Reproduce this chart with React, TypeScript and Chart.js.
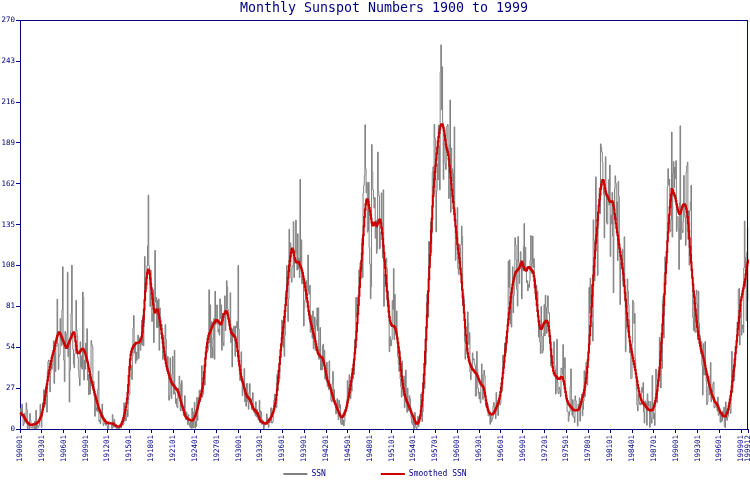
import React, { useEffect, useRef } from "react";
import { Chart, registerables } from "chart.js";

Chart.register(...registerables);

const TITLE = "Monthly Sunspot Numbers 1900 to 1999";
const FIRST_YEAR = 1900;
const LAST_YEAR = 1999;
const Y_MAX = 270;
const Y_STEP = 27;
const LABEL_EVERY = 36;
const NAVY = "#000080";
const SSN_COLOR = "#808080";
const SMOOTH_COLOR = "#cc0000";

// Monthly sunspot numbers, one line per year
const ssn1900s = [
  9.4, 13.6, 8.6, 16.5, 9.0, 2.2, 3.5, 10.4, 4.6, 5.8, 17.3, 12.9,
  0.2, 2.4, 4.5, 0, 10.2, 5.8, 0.7, 1, 0.6, 3.7, 3.8, 0,
  5.2, 0, 12.4, 0, 2.8, 1.4, 0.9, 2.3, 7.6, 16.3, 10.3, 1.1,
  8.3, 17, 13.5, 26.1, 14.6, 16.3, 27.9, 28.8, 11.1, 38.9, 44.5, 45.6,
  31.6, 24.5, 37.2, 43, 39.5, 41.9, 50.6, 58.2, 30.1, 54.2, 38, 54.6,
  54.8, 85.8, 56.5, 39.3, 48, 49, 73, 58.8, 55, 78.7, 107.2, 55.5,
  45.5, 31.3, 64.5, 55.3, 57.7, 63.2, 103.6, 47.7, 56.1, 17.8, 38.9, 64.7,
  76.4, 108.2, 60.7, 52.6, 42.9, 40.4, 49.7, 54.3, 85, 65.4, 61.5, 47.3,
  39.2, 33.9, 28.7, 57.6, 40.8, 48.1, 39.5, 90.5, 86.9, 32.3, 45.5, 39.5,
  56.7, 46.6, 66.3, 32.3, 36, 22.6, 35.8, 23.1, 38.8, 58.4, 55.8, 54.2,
];
const ssn1910s = [
  26.4, 31.5, 21.4, 8.4, 22.2, 12.3, 14.1, 11.5, 26.2, 38.3, 4.9, 5.8,
  3.4, 9, 7.8, 16.5, 9, 2.2, 3.5, 4, 4, 2.6, 4.2, 2.2,
  0.3, 0, 4.9, 4.5, 4.4, 4.1, 3, 0.3, 9.5, 4.6, 1.1, 6.4,
  2.3, 2.9, 0.5, 0.9, 0, 0, 1.7, 0.2, 1.2, 3.1, 0.7, 3.8,
  2.8, 2.6, 3.1, 17.3, 5.2, 11.4, 5.4, 7.7, 12.7, 8.2, 16.4, 22.3,
  23, 42.3, 38.8, 41.9, 32.7, 48.2, 66.6, 75, 50.1, 56, 43.4, 50.8,
  45.4, 50, 62, 46.5, 57, 60.3, 52, 56, 71.7, 55.5, 75.2, 54.9,
  70, 114, 96, 92.7, 92.6, 108, 121, 154.5, 108, 104.3, 81, 105,
  87, 71, 76, 92, 57, 76, 118, 84, 87, 67, 85, 67,
  86, 52, 80, 73, 68, 69, 60, 46, 62, 53, 47, 69,
];
const ssn1920s = [
  59, 43, 38, 48, 39, 19, 22, 47, 30, 20, 36, 48,
  32, 23, 52, 24, 17, 20, 15, 14, 27, 24, 35, 30,
  12, 21, 32, 12, 13, 9, 13, 22, 12, 6, 11, 8,
  2.8, 9.5, 4.1, 2.1, 1, 5.2, 0.5, 13.8, 0.7, 0.8, 11.3, 17.7,
  0.5, 5.1, 1.8, 20.9, 5.7, 13, 20.9, 25.6, 18.3, 21, 26.2, 41.8,
  21, 23, 28, 37, 29, 41, 48, 56, 51, 52, 54, 92,
  57, 82, 47, 71, 54, 47, 60, 73, 46, 91, 69, 70,
  82, 72, 64, 66, 62, 86, 73, 82, 52, 76, 57, 55,
  74, 88, 65, 79, 98, 94, 79, 72, 69, 67, 90, 57,
  67, 41, 66, 62, 68, 58, 48, 68, 67, 71, 55, 108,
];
const ssn1930s = [
  66, 43, 32, 41, 51, 31, 22, 28, 29, 40, 18, 27,
  15, 30, 30, 18, 13, 24, 30, 18, 20, 13, 19, 24,
  12, 11, 13, 9, 18, 8, 13, 9, 6, 11, 19, 4,
  12, 11, 3, 6, 5, 0, 2, 3, 4, 5, 10, 7,
  3, 1, 6, 4, 7, 14, 4, 4, 5, 14, 19, 23,
  18, 19, 14, 36, 25, 39, 31, 33, 43, 47, 56, 72,
  62, 54, 71, 48, 62, 89, 91, 108, 82, 71, 86, 132,
  111, 123, 100, 97, 107, 108, 137, 100, 118, 116, 138, 117,
  105, 129, 106, 113, 100, 165, 110, 125, 96, 103, 96, 68,
  80, 85, 97, 98, 89, 88, 115, 91, 89, 95, 64, 75,
];
const ssn1940s = [
  66, 60, 78, 53, 66, 74, 52, 68, 72, 80, 65, 80,
  46, 53, 67, 39, 48, 39, 55, 56, 42, 52, 33, 40,
  32, 44, 28, 30, 26, 45, 30, 27, 19, 18, 30, 38,
  20, 26, 19, 17, 10, 16, 20, 13, 6, 19, 14, 16,
  4, 3, 8, 3, 6, 2, 5, 9, 11, 13, 19, 32,
  19, 28, 36, 28, 20, 30, 25, 40, 33, 45, 36, 59,
  58, 87, 74, 75, 87, 83, 105, 93, 110, 109, 104, 126,
  100, 156, 161, 167, 201, 172, 156, 163, 130, 131, 163, 120,
  109, 86, 94, 188, 170, 158, 152, 146, 153, 126, 138, 116,
  119, 183, 157, 154, 119, 120, 130, 156, 128, 113, 158, 81,
];
const ssn1950s = [
  102, 94, 110, 113, 106, 83, 91, 85, 51, 61, 55, 55,
  59, 85, 79, 106, 59, 89, 63, 66, 78, 58, 48, 43,
  38, 52, 33, 28, 21, 45, 33, 22, 35, 14, 18, 39,
  26, 11, 27, 12, 13, 22, 20, 14, 7, 4, 3, 8,
  0.2, 0.5, 10.9, 1.8, 0.8, 0.2, 4.8, 8.4, 1.5, 7, 9.2, 7.6,
  23.1, 20.8, 4.9, 11.3, 28.9, 31.7, 26.7, 40.7, 42.7, 58.5, 89.2, 76.9,
  73.6, 124, 118.4, 110.7, 136.6, 116.6, 129.1, 169.6, 173.2, 155.3, 201.3, 192.1,
  165, 130.2, 157.4, 175.2, 164.6, 200.7, 187.2, 158, 235.8, 253.8, 210.9, 239.4,
  202.5, 164.9, 190.7, 196, 175.3, 171.5, 191.4, 200.2, 201.2, 181.5, 152.3, 187.6,
  217.4, 143.1, 185.7, 163.3, 172, 168.7, 149.6, 199.6, 145.2, 111.4, 124, 125,
];
const ssn1960s = [
  146.3, 106, 102.2, 122, 119.6, 110.2, 121.7, 134.1, 127.2, 82.8, 89.6, 85.6,
  57.9, 46.1, 53, 61.4, 51, 77.4, 70.2, 55.8, 63.6, 37.7, 32.6, 39.9,
  38.7, 50.3, 45.6, 46.4, 43.7, 42, 21.8, 21.8, 51.3, 39.5, 26.9, 23.2,
  19.8, 24.4, 17.1, 29.3, 43, 35.9, 19.6, 33.2, 38.8, 35.3, 23.4, 14.9,
  15.3, 17.7, 16.5, 8.6, 9.5, 9.1, 3.1, 9.3, 4.7, 6.1, 7.4, 15.1,
  17.5, 14.2, 11.7, 6.8, 24.1, 15.9, 11.9, 8.9, 16.8, 20.1, 15.8, 17,
  28.2, 24.4, 25.3, 48.7, 45.3, 47.7, 56.7, 51.2, 50.2, 57.2, 57.2, 70.4,
  110.9, 93.6, 111.8, 69.5, 86.5, 67.3, 91.5, 107.2, 76.8, 88.2, 94.3, 126.4,
  121.8, 111.9, 92.2, 81.2, 127.2, 110.3, 96.1, 109.3, 117.2, 107.7, 86, 109.8,
  104.4, 120.5, 135.8, 106.8, 120, 106, 96.8, 98, 91.3, 95.7, 93.5, 97.9,
];
const ssn1970s = [
  111.5, 127.8, 102.9, 109.5, 127.5, 106.8, 112.5, 93, 99.5, 86.6, 95.2, 83.5,
  91.3, 79, 60.7, 71.8, 57.5, 49.8, 81, 61.4, 50.2, 51.7, 63.2, 82.2,
  61.5, 88.4, 80.1, 63.2, 80.5, 88, 76.5, 76.8, 64, 61.3, 41.6, 45.3,
  43.4, 42.9, 46, 57.7, 42.4, 39.5, 23.1, 25.6, 59.3, 30.7, 23.9, 23.3,
  27.6, 26, 21.3, 40.3, 39.5, 36, 55.8, 33.6, 40.2, 47.1, 25, 20.5,
  18.9, 11.5, 11.5, 5.1, 9, 11.4, 28.2, 39.7, 13.9, 9.1, 19.4, 7.8,
  8.1, 4.3, 21.9, 18.8, 12.4, 12.2, 1.9, 16.4, 13.5, 20.6, 5.2, 15.3,
  16.4, 23.1, 8.7, 12.9, 18.6, 38.5, 21.4, 30.1, 44, 43.8, 29.1, 43.2,
  51.9, 93.6, 76.5, 99.7, 82.7, 95.1, 70.4, 58.1, 138.2, 125.1, 97.9, 122.7,
  166.6, 137.5, 138, 101.5, 134.4, 149.5, 159.4, 142.2, 188.4, 186.2, 183, 176.3,
];
const ssn1980s = [
  159.6, 155, 126.2, 164.1, 179.9, 157.3, 136.3, 135.4, 155, 164.7, 147.9, 174.4,
  114, 141.3, 135.5, 156.4, 127.5, 90, 143.8, 158.7, 167.3, 162.4, 137.5, 150.1,
  111.2, 163.6, 153.8, 122, 82.2, 110.4, 106.1, 107.6, 118.8, 94.7, 98.1, 127,
  84.3, 51, 66.5, 80.7, 99.2, 91.1, 82.2, 71.8, 50.3, 55.8, 33.3, 33.4,
  57, 85, 83.5, 69.7, 76.4, 46.1, 37.4, 25.5, 15.7, 12, 22.8, 18.7,
  16.5, 15.9, 17.2, 16.2, 27.5, 24.2, 30.7, 11.1, 3.9, 18.6, 16.2, 17.3,
  2.5, 23.2, 15.1, 18.5, 13.7, 1.1, 18.1, 7.4, 3.8, 35.4, 15.2, 6.8,
  10.4, 2.4, 14.7, 39.6, 33, 17.4, 33, 38.7, 33.9, 60.6, 39.9, 27.1,
  59, 40, 85, 88, 60.1, 101.8, 113.8, 111, 107.2, 113.8, 160, 172,
  161.3, 165.1, 131.4, 130.5, 138.5, 196.2, 126.8, 168.9, 176.7, 159.4, 173, 165.5,
];
const ssn1990s = [
  177.3, 130.5, 140.3, 140.3, 132.2, 105.4, 149.4, 200.3, 125.2, 145.5, 131.4, 129.7,
  136.9, 167.5, 141.9, 140, 121.3, 169.7, 173.7, 176.3, 125.3, 144.1, 108.2, 144.4,
  150, 161.1, 106.7, 99.8, 73.8, 65.2, 85.7, 64.5, 63.9, 88.7, 91.8, 82.6,
  59.3, 91, 69.8, 62.2, 61.3, 49.8, 57.9, 42.2, 22.4, 56.4, 35.6, 48.9,
  57.8, 35.5, 31.7, 16.1, 17.8, 28, 35.1, 22.5, 25.7, 44, 18, 26.2,
  24.2, 29.9, 31.1, 14, 14.5, 15.6, 14.5, 14.3, 11.8, 21.1, 9, 10,
  11.5, 4.4, 9.2, 4.8, 5.5, 11.8, 8.2, 14.4, 1.6, 0.9, 17.9, 13.3,
  5.7, 7.6, 8.7, 15.5, 18.5, 12.7, 10.4, 24.4, 51.3, 23.8, 39, 41.2,
  31.9, 40.3, 54.8, 53.4, 56.3, 70.7, 66.6, 92.2, 92.9, 55.5, 74, 81.9,
  62, 66.3, 68.8, 63.7, 106.4, 137.4, 113.5, 93.7, 71.5, 116.7, 133.2, 84.6,
];

// Smoothed monthly sunspot numbers, one line per year
const smooth1900s = [
  10.5, 10.3, 10, 9.6, 9.2, 8.7, 8.1, 7.4, 6.7, 6, 5.3, 4.7,
  4.2, 3.8, 3.4, 3.1, 2.9, 2.8, 2.7, 2.7, 2.8, 2.9, 3, 3.1,
  3.2, 3.3, 3.5, 3.8, 4.1, 4.5, 5, 5.6, 6.3, 7.2, 8.3, 9.6,
  11, 12.8, 14.8, 17, 19.4, 22, 24.5, 27, 29.5, 32, 34.5, 37,
  39, 41, 43, 45, 47, 48.5, 50, 51.5, 53, 55, 57, 58.5,
  60, 61.5, 62.5, 63.5, 64, 63.5, 63, 62, 61, 60, 59, 58,
  57, 56, 55, 54, 53.5, 54, 55, 56, 57, 58, 59, 60,
  61, 62, 63, 63.5, 64, 63, 61, 58, 55, 52, 50.5, 50,
  50, 50.5, 51, 51.5, 52, 52.5, 53, 53, 52.5, 52, 51, 50,
  48.5, 47, 45.5, 44, 42, 40, 38, 36, 34, 32, 30.5, 29,
];
const smooth1910s = [
  27.5, 26, 24.5, 23, 21.5, 20, 18.5, 17, 15.5, 14, 13, 12,
  11, 10, 9, 8.2, 7.5, 6.8, 6.2, 5.7, 5.2, 4.8, 4.5, 4.2,
  4, 3.8, 3.7, 3.6, 3.6, 3.7, 3.8, 3.8, 3.7, 3.5, 3.2, 2.9,
  2.6, 2.3, 2, 1.8, 1.6, 1.5, 1.5, 1.6, 1.8, 2.2, 2.8, 3.6,
  4.6, 5.8, 7.2, 8.8, 10.5, 12.5, 14.5, 17, 20, 24, 29, 35,
  41, 46, 49, 51, 52.5, 53.5, 54.5, 55, 55.5, 56, 56.5, 57,
  57, 57, 57, 57, 57.5, 58, 58.5, 59.5, 61, 64, 68, 73,
  79, 85, 91, 96, 100, 103, 104.5, 105.4, 104.5, 102.5, 99.5, 96,
  93, 89.5, 86, 82.5, 79.5, 77.5, 77, 77.5, 78.5, 79, 79, 78,
  76, 73.5, 71, 68.5, 66, 63, 60, 57, 54, 51, 48.5, 46,
];
const smooth1920s = [
  43.5, 41.5, 40, 38.5, 37, 35.5, 34, 33, 32, 31, 30, 29.5,
  29, 28.5, 28, 27.5, 27, 26.5, 26, 25.5, 24.5, 23.5, 22, 20.5,
  19, 17.5, 16, 15, 14, 12.5, 11, 9.5, 8.5, 8, 7.5, 7,
  6.8, 6.5, 6.2, 6, 5.8, 5.7, 5.6, 5.6, 5.8, 6.2, 6.8, 7.6,
  8.6, 9.8, 11, 12.5, 14, 15.5, 17, 18.5, 20, 21.5, 23, 25,
  27, 30, 33.5, 37.5, 42, 46.5, 50.5, 54, 57, 59.5, 61.5, 63,
  63.5, 64.5, 65.5, 66.5, 67.5, 68.5, 69.5, 70, 70.5, 71, 71.5, 72,
  72, 71.5, 71, 70.5, 70, 69.5, 69, 69.5, 70.5, 72, 74, 76,
  76, 77, 77.5, 78, 77.5, 76.5, 75, 73, 71, 68.5, 66, 64.5,
  63.5, 63, 62.5, 62, 61.5, 61, 60.5, 59, 57, 54.5, 51.5, 48,
];
const smooth1930s = [
  45, 42, 39, 36.5, 34.5, 33, 31.5, 30, 28.5, 27, 25.5, 24,
  23, 22, 21.5, 21, 20.5, 20, 19.5, 18.5, 17.5, 16.5, 15.5, 14.5,
  13.5, 13, 12.5, 12, 11.5, 11, 10.5, 10, 9, 8, 7, 6,
  5.5, 5, 4.8, 4.5, 4.2, 4, 3.8, 3.6, 3.5, 3.7, 4, 4.5,
  5, 5.5, 6, 6.5, 7, 7.8, 8.6, 9.5, 10.5, 11.8, 13.2, 15,
  17, 19.5, 22.5, 26, 30, 34, 38.5, 43, 47.5, 52, 56, 60,
  63.5, 67, 70.5, 74, 78, 82, 86.5, 91, 95.5, 100, 104, 108,
  111, 114, 116.5, 118.5, 119.2, 118.5, 117, 115, 113, 111.5, 110.5, 110,
  110, 110.5, 110.5, 110, 109, 108, 107, 106, 104.5, 103, 101, 99,
  96.5, 94, 91.5, 89, 86.5, 84, 81, 78, 75.5, 73, 71, 69.5,
];
const smooth1940s = [
  68, 66, 64.5, 63, 61.5, 60, 58, 56, 54, 52, 50.5, 49.5,
  49, 48.5, 48, 47.5, 47.5, 47, 46.5, 45.5, 44, 42, 40, 38,
  36, 34, 32, 31, 30, 29, 28, 27, 25.5, 24, 22.5, 21,
  19.5, 18.5, 17.5, 16.5, 15.5, 14.5, 13.5, 12.5, 11.5, 10.5, 9.5, 9,
  8.2, 7.7, 7.8, 8.2, 8.8, 9.5, 10.5, 11.5, 12.5, 14, 15.5, 17.5,
  19.5, 21.5, 24, 26.5, 29, 31.5, 34, 36.5, 39.5, 42.5, 46, 50,
  54, 59, 64.5, 70, 76, 82, 88, 94, 100, 106, 111, 116,
  122, 128, 134, 140, 145, 148.5, 151, 151.8, 151.5, 150, 148, 146,
  144, 141.5, 139, 136.5, 135, 134.5, 135, 136, 136.5, 136, 135, 134,
  135, 136, 137, 138, 138.5, 138, 136, 133, 129.5, 125.5, 121, 116.5,
];
const smooth1950s = [
  111.5, 106.5, 101.5, 96, 91, 86, 81.5, 77.5, 74, 71.5, 70, 69,
  68.5, 68, 68, 68, 67.5, 67, 66, 64.5, 62.5, 60, 57, 54,
  50.5, 47, 43, 39, 35, 32, 29.5, 27, 25, 23, 21.5, 20,
  19, 18, 17, 16, 15, 14, 13, 12, 11, 10, 9, 8.5,
  7.5, 6.5, 5.5, 4.5, 3.6, 3.4, 3.5, 3.9, 4.6, 5.6, 7, 9,
  12, 15, 19, 24, 30, 36, 43, 51, 59, 67, 75, 83,
  91, 99, 107, 115, 123, 131, 139, 147, 154, 160, 165, 170,
  174, 178, 182, 186, 190, 193, 195.5, 198, 200, 201, 201.3, 201,
  200.5, 199, 197, 194, 191, 188, 186, 184.5, 183, 181, 178, 174,
  170, 166, 162, 158, 154, 150, 146, 142, 138, 134, 130, 126,
];
const smooth1960s = [
  122, 119, 116, 113, 110, 106, 102, 97, 92, 87, 82, 77,
  72, 67, 62, 57, 53, 50, 47.5, 45.5, 44, 43, 42, 41,
  40, 39.5, 39, 38.5, 38, 37.5, 37, 36.5, 36, 35, 34, 33,
  32, 31, 30, 29.5, 29, 28.5, 28, 27.5, 26, 24, 21.5, 19,
  16.5, 14.5, 13, 12, 11, 10.5, 10, 9.8, 9.6, 9.6, 9.8, 10.2,
  10.8, 11.5, 12.2, 13, 14, 15, 16, 17.2, 18.5, 20, 22, 24.5,
  27, 30, 33.5, 37, 40.5, 44.5, 48.5, 52.5, 56.5, 60.5, 64.5, 68.5,
  72.5, 76.5, 80, 83.5, 87, 90, 93, 95.5, 97.5, 99.5, 101, 102.5,
  103.5, 104, 104.5, 105, 105.5, 106, 106.5, 107.5, 108.5, 109.5, 110.6, 110,
  108.5, 107, 106, 105.5, 105, 104.5, 105, 106, 106.5, 107, 107, 106.5,
];
const smooth1970s = [
  106, 105.5, 105, 104.5, 104, 103, 101, 98, 94, 90, 86, 82,
  78, 74.5, 71, 68.5, 67, 66, 66, 66.5, 67.5, 68.5, 69.5, 70,
  70.5, 71, 71.5, 71.5, 71, 70, 68, 65, 61.5, 57, 52.5, 48,
  44, 41, 38.5, 37, 36, 35.5, 35, 34.5, 34, 33.5, 33, 33,
  33, 33.5, 34, 34.5, 34.5, 34, 33, 31.5, 29.5, 27, 24.5, 22,
  20, 18.5, 17.5, 16.5, 16, 15.5, 15, 14.5, 14, 13.5, 13, 12.8,
  12.5, 12.3, 12.2, 12.2, 12.3, 12.5, 12.6, 12.8, 13.2, 14, 15, 16.5,
  18, 19.5, 21, 22.5, 24, 26, 28, 30.5, 33.5, 37, 41, 45.5,
  50.5, 56, 62, 68, 74.5, 81, 88, 95, 101.5, 107.5, 113, 118,
  123, 128, 133, 138, 143, 147.5, 151.5, 155, 158.5, 161.5, 163.5, 164.5,
];
const smooth1980s = [
  164.5, 163.5, 161.5, 159, 157, 155.5, 154.5, 154, 153, 152, 151, 150.5,
  150, 150, 150.5, 150.5, 149.5, 147.5, 145, 142, 139, 136, 133, 130,
  128, 125, 122, 119.5, 117, 114.5, 112, 109, 106, 102.5, 98.5, 94.5,
  90, 85.5, 81, 76.5, 72, 68, 64.5, 61, 58, 55.5, 53, 51,
  49, 47, 45, 43, 41, 39, 36.5, 34, 31.5, 29, 27, 25,
  23, 21.5, 20, 19, 18, 17.5, 17, 16.5, 16, 15.5, 15, 14.5,
  14, 13.5, 13, 12.7, 12.5, 12.4, 12.3, 12.3, 12.3, 12.6, 13.2, 14.2,
  15.5, 17, 18.5, 20.5, 23, 25.5, 28.5, 32, 36, 40.5, 45.5, 51,
  57, 63, 69, 75.5, 82, 89, 96, 103, 110, 117, 124, 130,
  136, 141.5, 146.5, 151, 155, 158.5, 158.3, 157.5, 156, 155, 154, 152.5,
];
const smooth1990s = [
  150.5, 148.5, 146.5, 145, 143.5, 142.5, 142, 142.5, 143.5, 145, 146.5, 147.5,
  148, 148.5, 148.5, 148, 147, 145.5, 143.5, 140, 136, 131, 126, 120.5,
  115, 110, 105, 100, 95.5, 91, 87, 83, 79, 75, 71, 67.5,
  64.5, 62, 59.5, 57, 55, 53, 51.5, 50, 48.5, 47, 45.5, 44,
  42, 40, 38, 36, 34, 32, 30.5, 29, 27.5, 26, 24.5, 23,
  22, 21, 20, 19, 18, 17.5, 17, 16.5, 16, 15, 14, 13,
  12, 11, 10.5, 10, 9.5, 9, 8.7, 8.5, 8.3, 8.2, 8.5, 9.5,
  10.5, 11.5, 13, 15, 17, 19.5, 22, 25, 28, 31.5, 35, 38.5,
  42, 46, 50, 54, 58, 62, 66, 70, 74, 78, 82, 85,
  87, 89, 91, 93, 95, 97, 99, 102, 105, 108, 110, 112,
];

const SSN = [
  ...ssn1900s, ...ssn1910s, ...ssn1920s, ...ssn1930s, ...ssn1940s,
  ...ssn1950s, ...ssn1960s, ...ssn1970s, ...ssn1980s, ...ssn1990s,
];
const SMOOTHED = [
  ...smooth1900s, ...smooth1910s, ...smooth1920s, ...smooth1930s, ...smooth1940s,
  ...smooth1950s, ...smooth1960s, ...smooth1970s, ...smooth1980s, ...smooth1990s,
];

const MONTHS: string[] = [];
for (let y = FIRST_YEAR; y <= LAST_YEAR; y++) {
  for (let m = 1; m <= 12; m++) MONTHS.push(`${y}${String(m).padStart(2, "0")}`);
}
const LAST_INDEX = MONTHS.length - 1;
const showLabel = (i: number) => i % LABEL_EVERY === 0 || i === LAST_INDEX;

const TICK_FONT = { family: "'DejaVu Sans Mono', monospace", size: 7.5 };

const frameLegendPlugin = {
  id: "frameLegend",
  afterDraw(chart: any) {
    const { ctx, chartArea: a, width } = chart;
    ctx.save();
    // top and right frame lines
    ctx.strokeStyle = NAVY;
    ctx.lineWidth = 1;
    ctx.beginPath();
    ctx.moveTo(a.left, Math.round(a.top) + 0.5);
    ctx.lineTo(a.right, Math.round(a.top) + 0.5);
    ctx.moveTo(Math.round(a.right) - 0.5, a.top);
    ctx.lineTo(Math.round(a.right) - 0.5, a.bottom);
    ctx.stroke();
    // legend
    const items = chart.data.datasets.map((d: any) => ({ text: d.label, color: d.borderColor }));
    ctx.font = "8px 'DejaVu Sans Mono', monospace";
    const lineW = 24, gapText = 4, gapItem = 55;
    const widths = items.map((it: any) => lineW + gapText + ctx.measureText(it.text).width);
    const total = widths.reduce((s: number, w: number) => s + w, 0) + gapItem * (items.length - 1);
    let x = (width - total) / 2;
    const y = 474;
    ctx.textBaseline = "middle";
    ctx.textAlign = "left";
    items.forEach((it: any, i: number) => {
      ctx.strokeStyle = it.color;
      ctx.lineWidth = 2;
      ctx.beginPath();
      ctx.moveTo(x, y);
      ctx.lineTo(x + lineW, y);
      ctx.stroke();
      ctx.fillStyle = NAVY;
      ctx.fillText(it.text, x + lineW + gapText, y);
      x += widths[i] + gapItem;
    });
    ctx.restore();
  },
};

export default function App() {
  const canvasRef = useRef<HTMLCanvasElement | null>(null);

  useEffect(() => {
    const canvas = canvasRef.current;
    if (!canvas) return;
    const chart = new Chart(canvas, {
      type: "line",
      data: {
        labels: MONTHS,
        datasets: [
          {
            label: "SSN",
            data: SSN,
            borderColor: SSN_COLOR,
            backgroundColor: SSN_COLOR,
            borderWidth: 1,
            pointRadius: 0,
            stepped: true,
            order: 2,
          },
          {
            label: "Smoothed SSN",
            data: SMOOTHED,
            borderColor: SMOOTH_COLOR,
            backgroundColor: SMOOTH_COLOR,
            borderWidth: 2,
            pointRadius: 0,
            stepped: true,
            order: 1,
          },
        ],
      },
      options: {
        responsive: false,
        animation: false,
        devicePixelRatio: 1,
        events: [],
        layout: { padding: { left: 0, right: 2, top: 0, bottom: 0 } },
        plugins: {
          legend: { display: false },
          tooltip: { enabled: false },
          title: {
            display: true,
            text: TITLE,
            color: NAVY,
            fullSize: false,
            font: { family: "'DejaVu Sans Mono', monospace", size: 13.3, weight: "normal" },
            padding: { top: 1, bottom: 3.4 },
          },
        },
        scales: {
          x: {
            type: "category",
            offset: false,
            grid: {
              drawOnChartArea: false,
              drawTicks: true,
              tickLength: 4,
              color: (c: any) => (showLabel(c.index) ? NAVY : "rgba(0,0,0,0)"),
              tickColor: (c: any) => (showLabel(c.index) ? NAVY : "rgba(0,0,0,0)"),
            },
            border: { display: true, color: NAVY, width: 1 },
            ticks: {
              autoSkip: false,
              maxRotation: 90,
              minRotation: 90,
              padding: 2,
              color: NAVY,
              font: TICK_FONT,
              callback: (_v: any, i: number) => (showLabel(i) ? MONTHS[i] : ""),
            },
            afterFit: (s: any) => {
              s.height = 51;
              s.paddingLeft = 0;
              s.paddingRight = 0;
            },
          },
          y: {
            min: 0,
            max: Y_MAX,
            grid: { drawOnChartArea: false, drawTicks: true, tickLength: 4, color: NAVY },
            border: { display: true, color: NAVY, width: 1 },
            ticks: { stepSize: Y_STEP, padding: 1, color: NAVY, font: TICK_FONT },
            afterFit: (s: any) => {
              s.width = 20;
              s.paddingTop = 0;
              s.paddingBottom = 0;
            },
          },
        },
      },
      plugins: [frameLegendPlugin],
    });
    return () => chart.destroy();
  }, []);

  return (
    <div style={{ position: "absolute", left: 0, top: 0, width: 750, height: 480, background: "#fff" }}>
      <canvas ref={canvasRef} width={750} height={480} style={{ display: "block" }} />
    </div>
  );
}
